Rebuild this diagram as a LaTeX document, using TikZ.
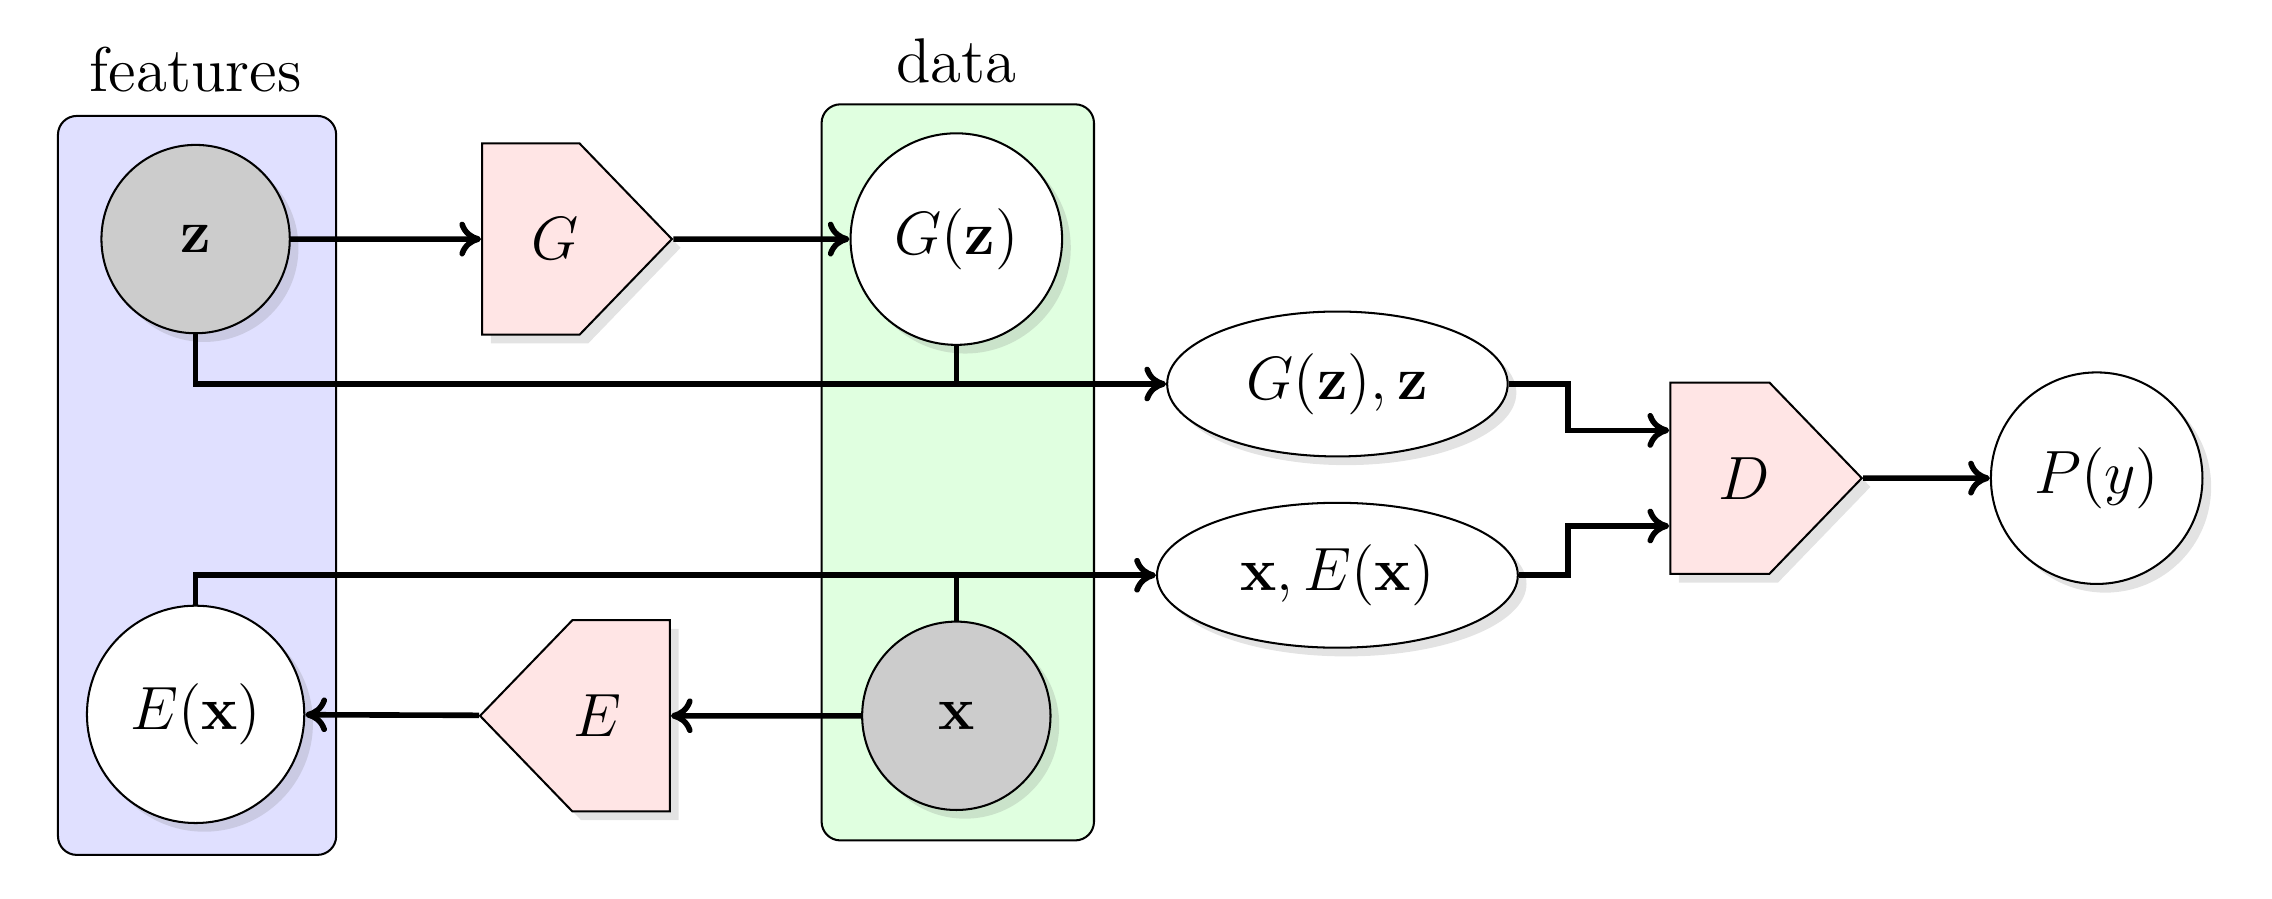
\documentclass[tikz,border=0pt,12pt]{standalone}
\usepackage{amsmath}
\usepackage{amssymb}
\usepackage{xcolor}
\usepackage{tikz}
\usetikzlibrary{shapes.geometric,shapes.symbols,shadows,arrows.meta}

\begin{document}
\begin{tikzpicture}[x=1cm,y=1cm,font=\fontsize{12.4}{15}\selectfont,
  nodeshadow/.style={drop shadow={shadow xshift=0.06cm,shadow yshift=-0.06cm,opacity=0.22}},
  var/.style={circle,draw,fill=white,inner sep=1pt,minimum size=1.30cm,nodeshadow},
  obs/.style={var,fill=black!20},
  pair/.style={ellipse,draw,fill=white,inner sep=1pt,minimum height=1.00cm,nodeshadow},
  net/.style={signal,draw,fill=red!10,signal pointer angle=92,inner sep=0pt,
    minimum width=1.31cm,minimum height=1.32cm,nodeshadow},
  netright/.style={net,signal to=east,anchor=west,execute at begin node={\hspace*{0.33cm}}},
  netleft/.style={net,signal to=west,anchor=east,execute at end node={\hspace*{0.33cm}}},
  plate/.style={draw,rounded corners=0.13cm},
  arr/.style={-{To[length=0.15cm,width=0.24cm]},line width=1.1pt},
  stub/.style={line width=0.9pt}]
\useasboundingbox (0,0) rectangle (15.68,6.20);

% plates
\draw[plate,fill=blue!12] (0.40,0.30) rectangle (2.32,5.40);
\node (featlab) at (1.35,5.72) {features};
\draw[plate,fill=green!12] (5.67,0.40) rectangle (7.55,5.48);
\node (datalab) at (6.60,5.78) {data};

% generator
\node[obs] (z) at (1.35,4.55) {$\mathbf{z}$};
\node[netright] (Gnet) at (3.32,4.55) {$G$};
\node[var,minimum size=1.46cm] (Gz) at (6.60,4.55) {$G(\mathbf{z})$};

% encoder
\node[obs] (x) at (6.60,1.26) {$\mathbf{x}$};
\node[netleft] (Enet) at (4.63,1.26) {$E$};
\node[var,minimum size=1.50cm] (Ex) at (1.35,1.27) {$E(\mathbf{x})$};

% discriminator
\node[pair,minimum width=2.35cm] (Gzz) at (9.23,3.55) {$G(\mathbf{z}),\mathbf{z}$};
\node[pair,minimum width=2.49cm] (xEx) at (9.23,2.23) {$\mathbf{x},E(\mathbf{x})$};
\node[netright] (Dnet) at (11.52,2.90) {$D$};
\node[var,minimum size=1.46cm] (Py) at (14.47,2.90) {$P(y)$};
\coordinate (bend) at (10.82,0);

\draw[arr] (z) -- (Gnet);
\draw[arr] (Gnet) -- (Gz);
\draw[arr] (x) -- (Enet);
\draw[arr] (Enet) -- (Ex);

\draw[arr] (z.south) |- (Gzz.west);
\draw[stub] (Gz.south) -- (Gz.south |- Gzz.west);
\draw[arr] (Ex.north) |- (xEx.west);
\draw[stub] (x.north) -- (x.north |- xEx.west);

\draw[arr] (Gzz.east) -- (Gzz.east -| bend) |- ([yshift=0.33cm]Dnet.west);
\draw[arr] (xEx.east) -- (xEx.east -| bend) |- ([yshift=-0.33cm]Dnet.west);
\draw[arr] (Dnet) -- (Py);
\end{tikzpicture}
\end{document}
